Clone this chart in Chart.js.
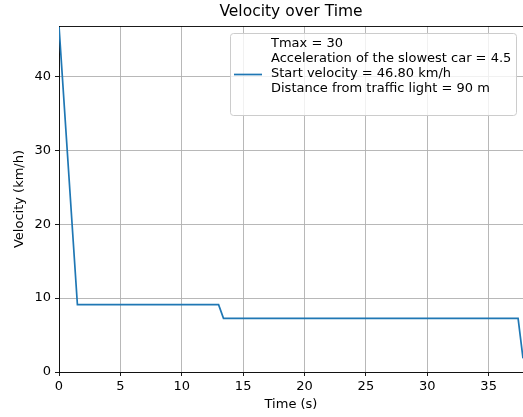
<!DOCTYPE html>
<html>
<head>
<meta charset="utf-8">
<script src="https://cdn.jsdelivr.net/npm/chart.js@4.4.0/dist/chart.umd.min.js"></script>
<style>
  html, body { margin: 0; padding: 0; background: #fff; }
  #wrap { width: 523px; height: 417px; }
</style>
</head>
<body>
<div id="wrap"><canvas id="chart" width="523" height="417"></canvas></div>
<script>
// data
const times = [0, 1.5, 13, 13.4, 37.4, 37.8];
const velocity = [46.8, 9.1, 9.1, 7.25, 7.25, 1.85];
const xTicks = [0, 5, 10, 15, 20, 25, 30, 35];
const yTicks = [0, 10, 20, 30, 40];
const legendLines = [
  "Tmax = 30",
  "Acceleration of the slowest car = 4.5",
  "Start velocity = 46.80 km/h",
  "Distance from traffic light = 90 m"
];

const FONT = "DejaVu Sans";
const BLUE = "#1f77b4";

// title, axis titles, top spine and the legend box
const decor = {
  id: "decor",
  afterDraw(chart) {
    const ctx = chart.ctx;
    const a = chart.chartArea;
    ctx.save();
    ctx.fillStyle = "#000";
    ctx.font = "15.5px '" + FONT + "'";
    ctx.textAlign = "center";
    ctx.textBaseline = "middle";
    ctx.fillText("Velocity over Time", (a.left + a.right) / 2, 12);

    ctx.font = "13px '" + FONT + "'";
    ctx.fillText("Time (s)", (a.left + a.right) / 2, 405);
    ctx.save();
    ctx.translate(20, (a.top + a.bottom) / 2);
    ctx.rotate(-Math.PI / 2);
    ctx.fillText("Velocity (km/h)", 0, 0);
    ctx.restore();

    // top spine
    ctx.strokeStyle = "#000";
    ctx.lineWidth = 0.9;
    ctx.beginPath();
    ctx.moveTo(a.left, a.top + 0.5);
    ctx.lineTo(a.right, a.top + 0.5);
    ctx.stroke();

    // legend
    const bx = 230.5, by = 33.5, bw = 286, bh = 82, r = 3;
    ctx.beginPath();
    ctx.roundRect(bx, by, bw, bh, r);
    ctx.fillStyle = "rgba(255,255,255,0.8)";
    ctx.fill();
    ctx.strokeStyle = "#cccccc";
    ctx.lineWidth = 1;
    ctx.stroke();

    ctx.strokeStyle = BLUE;
    ctx.lineWidth = 1.7;
    ctx.beginPath();
    ctx.moveTo(234, 74.5);
    ctx.lineTo(262, 74.5);
    ctx.stroke();

    ctx.fillStyle = "#000";
    ctx.textAlign = "left";
    ctx.font = "13px '" + FONT + "'";
    legendLines.forEach(function (line, i) {
      ctx.fillText(line, 271, 43.5 + i * 15.2);
    });
    ctx.restore();
  }
};

const ctx = document.getElementById("chart").getContext("2d");
const myChart = new Chart(ctx, {
  type: "line",
  data: {
    datasets: [
      {
        label: "velocity",
        data: times.map(function (t, i) { return { x: t, y: velocity[i] }; }),
        borderColor: BLUE,
        borderWidth: 1.7,
        pointRadius: 0,
        fill: false,
        tension: 0
      }
    ]
  },
  options: {
    responsive: false,
    animation: false,
    layout: { padding: { top: 26, left: 0, right: 0, bottom: 0 } },
    plugins: {
      legend: { display: false },
      title: { display: false },
      tooltip: { enabled: false }
    },
    scales: {
      x: {
        type: "linear",
        min: 0,
        max: 37.8,
        afterBuildTicks: function (s) { s.ticks = xTicks.map(function (v) { return { value: v }; }); },
        afterFit: function (s) { s.height = 45; },
        grid: { color: "#b0b0b0", lineWidth: 0.9, tickColor: "#000", tickLength: 4 },
        border: { color: "#000", width: 0.9 },
        ticks: { color: "#000", font: { family: FONT, size: 13 }, padding: 3, maxRotation: 0 }
      },
      y: {
        type: "linear",
        min: 0,
        max: 46.8,
        afterBuildTicks: function (s) { s.ticks = yTicks.map(function (v) { return { value: v }; }); },
        afterFit: function (s) { s.width = 59; },
        grid: { color: "#b0b0b0", lineWidth: 0.9, tickColor: "#000", tickLength: 4 },
        border: { color: "#000", width: 0.9 },
        ticks: { color: "#000", font: { family: FONT, size: 13 }, padding: 4 }
      }
    }
  },
  plugins: [decor]
});
</script>
</body>
</html>
